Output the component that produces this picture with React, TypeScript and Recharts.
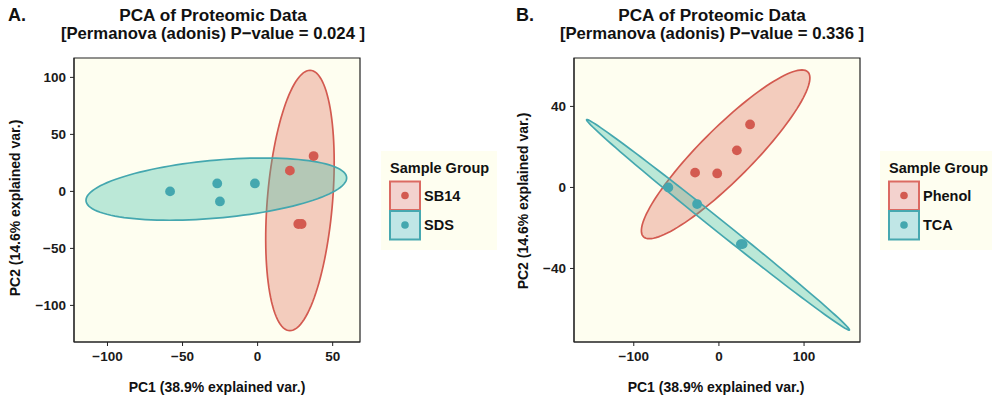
import React from 'react';
import { ScatterChart, Scatter, XAxis, YAxis, CartesianGrid, ReferenceArea } from 'recharts';

// ---------- data (PC scores) ----------
const panelA_SB14 = [
  { x: 21.5, y: 18.2 },
  { x: 37.3, y: 31.0 },
  { x: 27.1, y: -28.6 },
  { x: 29.3, y: -28.6 },
];
const panelA_SDS = [
  { x: -58.3, y: 0 },
  { x: -26.9, y: 7.0 },
  { x: -25.1, y: -8.8 },
  { x: -1.8, y: 7.0 },
];
const panelB_Phenol = [
  { x: -28.0, y: 7.3 },
  { x: -2.0, y: 6.9 },
  { x: 21.1, y: 18.3 },
  { x: 36.6, y: 31.1 },
];
const panelB_TCA = [
  { x: -59.4, y: 0 },
  { x: -25.6, y: -8.2 },
  { x: 25.8, y: -28.0 },
  { x: 27.8, y: -28.0 },
];

// 95% ellipses: centre + two conjugate semi-diameters (data units)
const ellipseA_SB14 = { cx: 28.2, cy: -8.0, ax: 6.7, ay: 114.2, bx: 21.8, by: 0 };
const ellipseA_SDS = { cx: -27.5, cy: 2.0, ax: 31.2, ay: 27.3, bx: 81, by: 0 };
const ellipseB_Phenol = { cx: 7.9, cy: 16.35, ax: 89.6, ay: 41.65, bx: 42, by: 0 };
const ellipseB_TCA = { cx: -1.05, cy: -18.45, ax: -154.35, ay: 51.85, bx: 0, by: 3.7 };

const ticksAX = [-100, -50, 0, 50];
const ticksAY = [-100, -50, 0, 50, 100];
const ticksBX = [-100, 0, 100];
const ticksBY = [-40, 0, 40];

const domainAX = [-122.3, 68.2];
const domainAY = [-132.1, 117];
const domainBX = [-170.2, 165.7];
const domainBY = [-76.3, 63.9];

const titleLine1 = 'PCA of Proteomic Data';
const titleA2 = '[Permanova (adonis) P\u2212value = 0.024 ]';
const titleB2 = '[Permanova (adonis) P\u2212value = 0.336 ]';
const xLabel = 'PC1 (38.9% explained var.)';
const yLabel = 'PC2 (14.6% explained var.)';
const legendTitle = 'Sample Group';
const legendA = ['SB14', 'SDS'];
const legendB = ['Phenol', 'TCA'];

// ---------- styles ----------
const FONT = '"Liberation Sans", Arial, Helvetica, sans-serif';
const RED = '#D35A50';
const TEAL = '#44A7AF';
const RED_FILL = '#E0705E';
const TEAL_FILL = '#3FBFA8';
const BG = '#FEFEF0';

function ellipsePoints(e: any) {
  const pts: { x: number; y: number }[] = [];
  const n = 120;
  for (let i = 0; i <= n; i++) {
    const t = (i / n) * Math.PI * 2;
    pts.push({
      x: e.cx + e.ax * Math.cos(t) + e.bx * Math.sin(t),
      y: e.cy + e.ay * Math.cos(t) + e.by * Math.sin(t),
    });
  }
  return pts;
}

const fmt = (v: number) => (v < 0 ? '\u2212' + Math.abs(v) : String(v));

const tickStyle = { fill: '#1a1a1a', fontSize: 13.5, fontWeight: 700, fontFamily: FONT };

const makeLine = (stroke: string, fill: string) => (p: any) => {
  const pts = p.points || [];
  if (!pts.length) return <g />;
  const d = pts.map((q: any, i: number) => `${i === 0 ? 'M' : 'L'}${q.x},${q.y}`).join(' ') + ' Z';
  return <path d={d} fill={fill} fillOpacity={0.35} stroke={stroke} strokeWidth={1.7} />;
};

const Dot = (color: string) => (p: any) => <circle cx={p.cx} cy={p.cy} r={4.9} fill={color} />;
const NoShape = () => <g />;

function Panel({ left, yAxisWidth, domX, domY, ticksX, ticksY, groups }: any) {
  return (
    <div style={{ position: 'absolute', left, top: 0 }}>
      <ScatterChart
        width={496}
        height={397}
        margin={{ top: 58, right: 496 - yAxisWidth - 286, bottom: 25, left: 0 }}
      >
        <CartesianGrid fill={BG} horizontal={false} vertical={false} stroke="none" />
        <XAxis
          type="number"
          dataKey="x"
          domain={domX}
          ticks={ticksX}
          allowDataOverflow
          height={30}
          tickSize={4}
          tickMargin={5}
          tick={tickStyle}
          tickFormatter={fmt}
          axisLine={{ stroke: '#222' }}
          tickLine={{ stroke: '#222' }}
        />
        <YAxis
          type="number"
          dataKey="y"
          domain={domY}
          ticks={ticksY}
          allowDataOverflow
          width={yAxisWidth}
          tickSize={4}
          tickMargin={4}
          tick={tickStyle}
          tickFormatter={fmt}
          axisLine={{ stroke: '#222' }}
          tickLine={{ stroke: '#222' }}
        />
        {groups.map((g: any, i: number) => (
          <Scatter
            key={'e' + i}
            data={ellipsePoints(g.ellipse)}
            isAnimationActive={false}
            shape={NoShape}
            line={makeLine(g.stroke, g.fill)}
            lineType="joint"
          />
        ))}
        {groups.map((g: any, i: number) => (
          <Scatter key={'p' + i} data={g.points} isAnimationActive={false} shape={Dot(g.stroke)} />
        ))}
        <ReferenceArea
          x1={domX[0]}
          x2={domX[1]}
          y1={domY[0]}
          y2={domY[1]}
          fill="none"
          stroke="#222"
          strokeWidth={1.2}
          ifOverflow="visible"
        />
      </ScatterChart>
    </div>
  );
}

function Legend({ x, y, names }: any) {
  const cols = [
    { stroke: '#DB6A62', fill: '#F3D2CE', dot: RED },
    { stroke: '#47A8B0', fill: '#C0E6E6', dot: TEAL },
  ];
  return (
    <g>
      <rect x={x - 9} y={y - 17} width={116} height={99} fill={BG} />
      <text x={x} y={y} fontSize={14.5} fontWeight={700} fontFamily={FONT} fill="#111" dominantBaseline="central">
        {legendTitle}
      </text>
      {names.map((n: string, i: number) => (
        <g key={n}>
          <rect x={x} y={y + 13.5 + i * 29.5} width={30} height={28.5} fill={cols[i].fill} stroke={cols[i].stroke} strokeWidth={2} />
          <circle cx={x + 15} cy={y + 27.5 + i * 29.5} r={3.8} fill={cols[i].dot} />
          <text x={x + 34} y={y + 27.5 + i * 29.5} fontSize={14.5} fontWeight={700} fontFamily={FONT} fill="#111" dominantBaseline="central">
            {n}
          </text>
        </g>
      ))}
    </g>
  );
}

export default function App() {
  const groupsA = [
    { points: panelA_SB14, ellipse: ellipseA_SB14, stroke: RED, fill: RED_FILL },
    { points: panelA_SDS, ellipse: ellipseA_SDS, stroke: TEAL, fill: TEAL_FILL },
  ];
  const groupsB = [
    { points: panelB_Phenol, ellipse: ellipseB_Phenol, stroke: RED, fill: RED_FILL },
    { points: panelB_TCA, ellipse: ellipseB_TCA, stroke: TEAL, fill: TEAL_FILL },
  ];
  const t = { fontFamily: FONT, fontWeight: 700, fill: '#111' } as any;
  return (
    <div style={{ position: 'absolute', left: 0, top: 0, width: 992, height: 397, background: '#fff', overflow: 'hidden' }}>
      <Panel left={0} yAxisWidth={74} domX={domainAX} domY={domainAY} ticksX={ticksAX} ticksY={ticksAY} groups={groupsA} />
      <Panel left={496} yAxisWidth={78} domX={domainBX} domY={domainBY} ticksX={ticksBX} ticksY={ticksBY} groups={groupsB} />
      <svg width={992} height={397} style={{ position: 'absolute', left: 0, top: 0, pointerEvents: 'none' }}>
        <text x={8} y={21} fontSize={18} {...t}>A.</text>
        <text x={516} y={21} fontSize={18} {...t}>B.</text>
        <text x={213} y={21} fontSize={17.2} textAnchor="middle" {...t}>{titleLine1}</text>
        <text x={213} y={39} fontSize={16.7} textAnchor="middle" {...t}>{titleA2}</text>
        <text x={712} y={21} fontSize={17.2} textAnchor="middle" {...t}>{titleLine1}</text>
        <text x={712} y={39} fontSize={16.7} textAnchor="middle" {...t}>{titleB2}</text>
        <text x={217} y={392} fontSize={14} textAnchor="middle" {...t}>{xLabel}</text>
        <text x={716} y={392} fontSize={14} textAnchor="middle" {...t}>{xLabel}</text>
        <text x={15} y={208} fontSize={14} textAnchor="middle" dominantBaseline="central" transform="rotate(-90 15 208)" {...t}>{yLabel}</text>
        <text x={523} y={201} fontSize={14} textAnchor="middle" dominantBaseline="central" transform="rotate(-90 523 201)" {...t}>{yLabel}</text>
        <Legend x={390} y={168} names={legendA} />
        <Legend x={889} y={168} names={legendB} />
      </svg>
    </div>
  );
}
